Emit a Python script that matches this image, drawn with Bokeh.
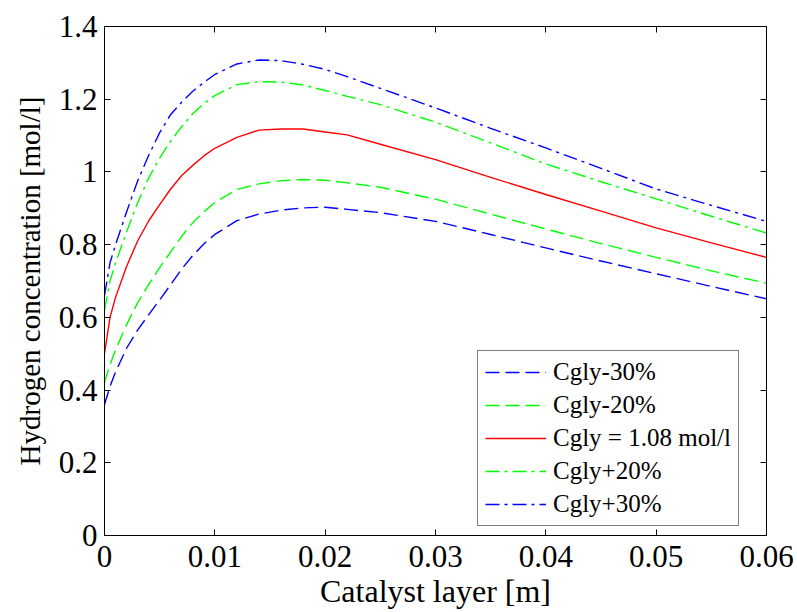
from bokeh.plotting import figure
from bokeh.models import (Legend, LegendItem, LinearAxis, FixedTicker, ColumnDataSource)
from bokeh.embed import file_html
from bokeh.resources import INLINE

# ---- data ----
x = [0.0, 0.0005, 0.001, 0.002, 0.003, 0.004, 0.005, 0.006, 0.007, 0.008, 0.009, 0.010,
     0.012, 0.014, 0.016, 0.018, 0.020, 0.022, 0.025, 0.030, 0.035, 0.040,
     0.045, 0.050, 0.055, 0.060]

cgly_m30 = [0.36, 0.41, 0.45, 0.515, 0.565, 0.607, 0.648, 0.69, 0.733, 0.77, 0.802, 0.828,
            0.866, 0.884, 0.895, 0.901, 0.903, 0.897, 0.888, 0.864, 0.828, 0.791,
            0.755, 0.72, 0.685, 0.651]
cgly_m20 = [0.42, 0.47, 0.51, 0.58, 0.64, 0.69, 0.737, 0.78, 0.823, 0.86, 0.89, 0.916,
            0.952, 0.967, 0.976, 0.979, 0.977, 0.97, 0.958, 0.925, 0.884, 0.843,
            0.803, 0.765, 0.728, 0.694]
cgly_base = [0.50, 0.60, 0.655, 0.74, 0.81, 0.865, 0.91, 0.953, 0.99, 1.018, 1.044, 1.065,
             1.095, 1.115, 1.118, 1.118, 1.11, 1.102, 1.076, 1.034, 0.985, 0.938,
             0.892, 0.846, 0.805, 0.765]
cgly_p20 = [0.62, 0.70, 0.75, 0.835, 0.915, 0.983, 1.038, 1.085, 1.125, 1.16, 1.188, 1.21,
            1.24, 1.248, 1.247, 1.239, 1.224, 1.208, 1.185, 1.137, 1.08, 1.022,
            0.973, 0.926, 0.878, 0.832]
cgly_p30 = [0.66, 0.75, 0.80, 0.89, 0.975, 1.045, 1.108, 1.158, 1.192, 1.222, 1.246, 1.268,
            1.297, 1.308, 1.306, 1.296, 1.282, 1.262, 1.23, 1.176, 1.12, 1.066,
            1.01, 0.953, 0.908, 0.864]

series_labels = ["Cgly-30%", "Cgly-20%", "Cgly = 1.08 mol/l", "Cgly+20%", "Cgly+30%"]

x_ticks = [0.0, 0.01, 0.02, 0.03, 0.04, 0.05, 0.06]
x_tick_labels = ["0", "0.01", "0.02", "0.03", "0.04", "0.05", "0.06"]
y_ticks = [0.0, 0.2, 0.4, 0.6, 0.8, 1.0, 1.2, 1.4]
y_tick_labels = ["0", "0.2", "0.4", "0.6", "0.8", "1", "1.2", "1.4"]

x_title = "Catalyst layer [m]"
y_title = "Hydrogen concentration [mol/l]"

# ---- styling ----
FONT = "Liberation Serif"
styles = [
    ("#0000ff", "14 6"),
    ("#00ff00", "14 6"),
    ("#ff0000", "solid"),
    ("#00ff00", "14 5 3 5"),
    ("#0000ff", "14 5 3 5"),
]

p = figure(frame_width=662, frame_height=509,
           x_range=(0, 0.06), y_range=(0, 1.4),
           output_backend="svg", toolbar_location=None,
           min_border_left=104, min_border_right=31,
           min_border_top=26, min_border_bottom=77)
p.background_fill_color = "white"
p.border_fill_color = "white"
p.outline_line_color = "black"
p.outline_line_width = 1
p.outline_line_alpha = 1
p.grid.visible = False

src = ColumnDataSource(dict(x=x, m30=cgly_m30, m20=cgly_m20, base=cgly_base,
                            p20=cgly_p20, p30=cgly_p30))
renderers = []
for col, (color, dash) in zip(["m30", "m20", "base", "p20", "p30"], styles):
    r = p.line("x", col, source=src, line_color=color, line_width=1.4,
               line_dash=dash)
    renderers.append(r)

def style_axis(ax, ticks, labels, show_labels=True):
    ax.ticker = FixedTicker(ticks=ticks)
    ax.major_label_overrides = {t: l for t, l in zip(ticks, labels)}
    ax.major_tick_in = 6
    ax.major_tick_out = 0
    ax.minor_tick_line_color = None
    ax.major_tick_line_color = "black"
    ax.axis_line_color = "black"
    ax.major_label_text_font = FONT
    ax.major_label_text_color = "black"
    ax.axis_label_text_font = FONT
    ax.axis_label_text_font_style = "normal"
    ax.axis_label_text_color = "black"
    if not show_labels:
        ax.major_label_text_font_size = "0px"
        ax.major_label_text_alpha = 0

xa = p.xaxis[0]
ya = p.yaxis[0]
style_axis(xa, x_ticks, x_tick_labels)
style_axis(ya, y_ticks, y_tick_labels)
xa.major_label_text_font_size = "31px"
ya.major_label_text_font_size = "31px"
xa.axis_label = x_title
ya.axis_label = y_title
xa.axis_label_text_font_size = "32px"
ya.axis_label_text_font_size = "29px"
xa.major_label_standoff = 10
ya.major_label_standoff = 7
xa.axis_label_standoff = 3
ya.axis_label_standoff = 10

top = LinearAxis()
right = LinearAxis()
style_axis(top, x_ticks, x_tick_labels, show_labels=False)
style_axis(right, y_ticks, y_tick_labels, show_labels=False)
p.add_layout(top, "above")
p.add_layout(right, "right")

legend = Legend(items=[LegendItem(label=l, renderers=[r])
                       for l, r in zip(series_labels, renderers)],
                location=(373, 9))
legend.label_text_font = FONT
legend.label_text_font_size = "25px"
legend.label_text_color = "black"
legend.glyph_width = 61
legend.glyph_height = 22
legend.label_height = 22
legend.label_standoff = 7
legend.spacing = 5
legend.padding = 7
legend.margin = 0
legend.border_line_color = "black"
legend.border_line_width = 1
legend.background_fill_color = "white"
legend.background_fill_alpha = 1
p.add_layout(legend, "center")

open("out.html", "w").write(file_html(p, INLINE))
